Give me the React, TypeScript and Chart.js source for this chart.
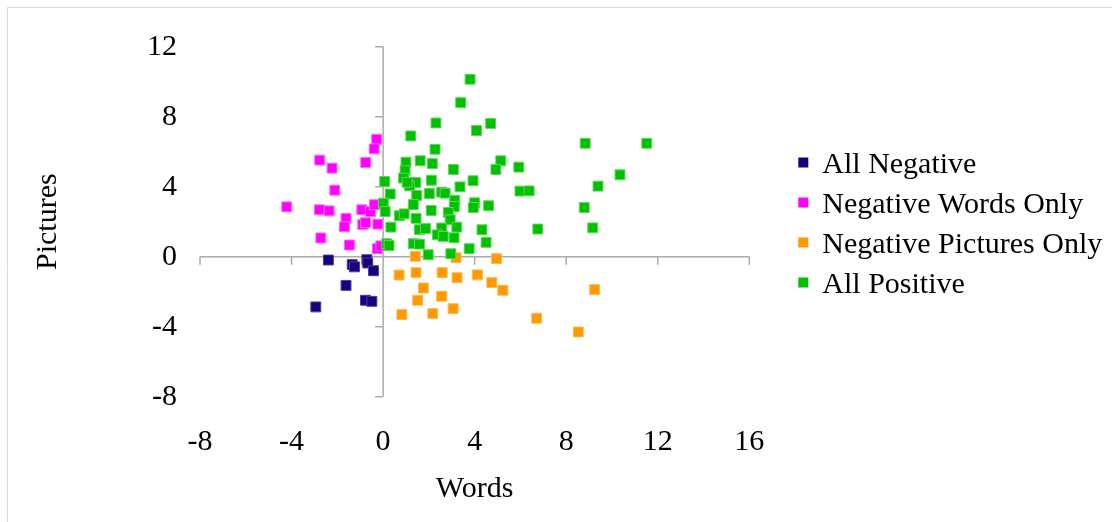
import React, { useEffect, useRef } from "react";
import { Chart, registerables } from "chart.js";

Chart.register(...registerables);

// ---- data ----
const seriesNames = ["All Negative", "Negative Words Only", "Negative Pictures Only", "All Positive"];
const seriesColors = ["#1a007e", "#ff00ff", "#ff9900", "#00c000"];
const seriesBorders = ["#4a3a9e", "#ff66ff", "#ffb84d", "#5ad85a"];

const xTickValues = [-8, -4, 0, 4, 8, 12, 16];
const yTickValues = [-8, -4, 0, 4, 8, 12];

const allNegX = [-2.39, -1.35, -1.25, -0.71, -0.67, -0.42, -1.62, -0.77, -0.49, -2.94];
const allNegY = [-0.19, -0.45, -0.58, -0.17, -0.36, -0.8, -1.64, -2.49, -2.55, -2.87];

const negWordsX = [-0.28, -0.39, -2.77, -2.23, -0.76, -2.11, -4.21, -2.78, -2.36, -0.93, -0.55, -0.38, -1.62, -1.69, -0.89, -0.77, -0.23, -2.72, -1.47, -0.25, -0.1];
const negWordsY = [6.71, 6.16, 5.52, 5.06, 5.38, 3.8, 2.85, 2.68, 2.62, 2.68, 2.58, 2.97, 2.19, 1.71, 1.83, 1.94, 1.86, 1.07, 0.67, 0.46, 0.62];

const negPicX = [1.41, 3.19, 0.7, 1.44, 2.58, 3.23, 4.12, 1.76, 1.51, 2.56, 3.06, 0.82, 2.17, 4.96, 4.75, 5.23, 9.24, 6.71, 8.53];
const negPicY = [0.02, -0.06, -1.05, -0.91, -0.91, -1.2, -1.04, -1.79, -2.49, -2.26, -2.97, -3.31, -3.25, -0.11, -1.48, -1.92, -1.88, -3.52, -4.3];

const allPosX = [3.8, 3.39, 2.31, 4.7, 4.08, 1.21, 8.83, 11.52, 2.27, 5.14, 4.93, 1.0, 1.62, 2.15, 3.07, 5.93, 10.35, 0.96, 0.89, 0.07, 1.43, 2.11, 3.93, 3.36, 1.15, 9.39, 5.98, 6.38, 0.31, 1.47, 2.02, 2.56, 2.71, 3.13, 4.0, 3.94, 4.61, 8.79, 0.01, 0.09, 1.32, 2.1, 3.11, 2.85, 0.71, 0.92, 1.44, 2.93, 0.34, 1.59, 1.85, 2.56, 3.22, 4.32, 6.76, 9.16, 2.37, 2.63, 3.1, 0.16, 0.26, 1.32, 1.59, 4.5, 3.76, 1.97, 2.96, 1.05];
const allPosY = [10.14, 8.8, 7.64, 7.61, 7.21, 6.9, 6.48, 6.48, 6.14, 5.48, 4.98, 5.4, 5.48, 5.32, 4.98, 5.12, 4.68, 4.91, 4.49, 4.3, 4.24, 4.37, 4.34, 3.99, 4.05, 4.03, 3.75, 3.76, 3.58, 3.5, 3.61, 3.69, 3.63, 3.23, 3.08, 2.81, 2.91, 2.81, 3.06, 2.58, 2.98, 2.64, 2.87, 2.53, 2.34, 2.45, 2.19, 2.11, 1.69, 1.54, 1.61, 1.64, 1.69, 1.54, 1.58, 1.65, 1.25, 1.16, 1.08, 0.74, 0.64, 0.74, 0.72, 0.82, 0.46, 0.11, 0.17, 4.25];

const xTitle = "Words";
const yTitle = "Pictures";

const FONT = "'Liberation Serif', 'Times New Roman', serif";

const seriesX = [allNegX, negWordsX, negPicX, allPosX];
const seriesY = [allNegY, negWordsY, negPicY, allPosY];
const drawOrder = [3, 2, 1, 0];

const zip = (xs: number[], ys: number[]) => xs.map((x, i) => ({ x, y: ys[i] }));

const framePlugin = {
  id: "frame",
  beforeDraw(chart: any) {
    const { ctx, width, height } = chart;
    ctx.save();
    ctx.fillStyle = "#ffffff";
    ctx.fillRect(0, 0, width, height);
    ctx.strokeStyle = "#d9d9d9";
    ctx.lineWidth = 1;
    ctx.beginPath();
    ctx.moveTo(7.5, height);
    ctx.lineTo(7.5, 7.5);
    ctx.lineTo(width, 7.5);
    ctx.stroke();
    ctx.restore();
  },
};

const zeroAxesPlugin = {
  id: "zeroAxes",
  beforeDatasetsDraw(chart: any) {
    const { ctx, chartArea, scales } = chart;
    const x0 = scales.x.getPixelForValue(0);
    const y0 = scales.y.getPixelForValue(0);
    ctx.save();
    ctx.strokeStyle = "#ababab";
    ctx.lineWidth = 1.5;
    ctx.beginPath();
    ctx.moveTo(x0, chartArea.top);
    ctx.lineTo(x0, chartArea.bottom);
    ctx.moveTo(chartArea.left, y0);
    ctx.lineTo(chartArea.right, y0);
    for (const t of yTickValues) {
      const p = scales.y.getPixelForValue(t);
      ctx.moveTo(x0 - 8, p);
      ctx.lineTo(x0, p);
    }
    for (const t of xTickValues) {
      const p = scales.x.getPixelForValue(t);
      ctx.moveTo(p, y0);
      ctx.lineTo(p, y0 + 8);
    }
    ctx.stroke();
    ctx.restore();
  },
};

const legendPlugin = {
  id: "customLegend",
  afterDraw(chart: any) {
    const { ctx, chartArea } = chart;
    const boxCx = chartArea.right + 54;
    const textX = chartArea.right + 73;
    const firstBaseline = 172.5;
    const rowGap = 40;
    ctx.save();
    ctx.font = `30px ${FONT}`;
    ctx.textBaseline = "alphabetic";
    ctx.textAlign = "left";
    seriesNames.forEach((name, i) => {
      const base = firstBaseline + i * rowGap;
      const cy = base - 10;
      ctx.fillStyle = seriesColors[i];
      ctx.fillRect(boxCx - 5, cy - 5, 10, 10);
      ctx.fillStyle = "#000000";
      ctx.fillText(name, textX, base);
    });
    ctx.restore();
  },
};

export default function App() {
  const canvasRef = useRef<HTMLCanvasElement | null>(null);

  useEffect(() => {
    const canvas = canvasRef.current;
    if (!canvas) return;
    const chart = new Chart(canvas, {
      type: "scatter",
      data: {
        datasets: seriesNames.map((name, i) => ({
          label: name,
          data: zip(seriesX[i], seriesY[i]),
          backgroundColor: seriesColors[i],
          borderColor: seriesBorders[i],
          borderWidth: 1,
          pointStyle: "rect",
          pointRadius: 7,
          pointHoverRadius: 7,
          order: drawOrder[i],
        })),
      },
      options: {
        responsive: false,
        maintainAspectRatio: false,
        animation: false,
        devicePixelRatio: 1,
        events: [],
        layout: { padding: { left: 0, top: 46.7, right: 362.7, bottom: 0 } },
        plugins: {
          legend: { display: false },
          tooltip: { enabled: false },
        },
        scales: {
          x: {
            type: "linear",
            position: "bottom",
            min: xTickValues[0],
            max: xTickValues[xTickValues.length - 1],
            ticks: {
              stepSize: xTickValues[1] - xTickValues[0],
              font: { family: FONT, size: 30 },
              color: "#000000",
              padding: 27,
              autoSkip: false,
              maxRotation: 0,
            },
            grid: { display: false, drawTicks: false },
            border: { display: false },
            title: {
              display: true,
              text: xTitle,
              color: "#000000",
              font: { family: FONT, size: 30 },
              padding: { top: 0, bottom: 15 },
            },
            afterFit: (s: any) => {
              s.height = 125.3;
            },
          },
          y: {
            type: "linear",
            position: "left",
            min: yTickValues[0],
            max: yTickValues[yTickValues.length - 1],
            ticks: {
              stepSize: yTickValues[1] - yTickValues[0],
              font: { family: FONT, size: 30 },
              color: "#000000",
              padding: 23,
              autoSkip: false,
            },
            grid: { display: false, drawTicks: false },
            border: { display: false },
            title: {
              display: true,
              text: yTitle,
              color: "#000000",
              font: { family: FONT, size: 30 },
              padding: { top: 30, bottom: 0 },
            },
            afterFit: (s: any) => {
              s.width = 200;
            },
          },
        },
      },
      plugins: [framePlugin, zeroAxesPlugin, legendPlugin],
    });
    return () => chart.destroy();
  }, []);

  return (
    <div style={{ position: "fixed", left: 0, top: 0, width: 1112, height: 522, background: "#ffffff" }}>
      <canvas ref={canvasRef} width={1112} height={522} style={{ display: "block", width: 1112, height: 522 }} />
    </div>
  );
}
